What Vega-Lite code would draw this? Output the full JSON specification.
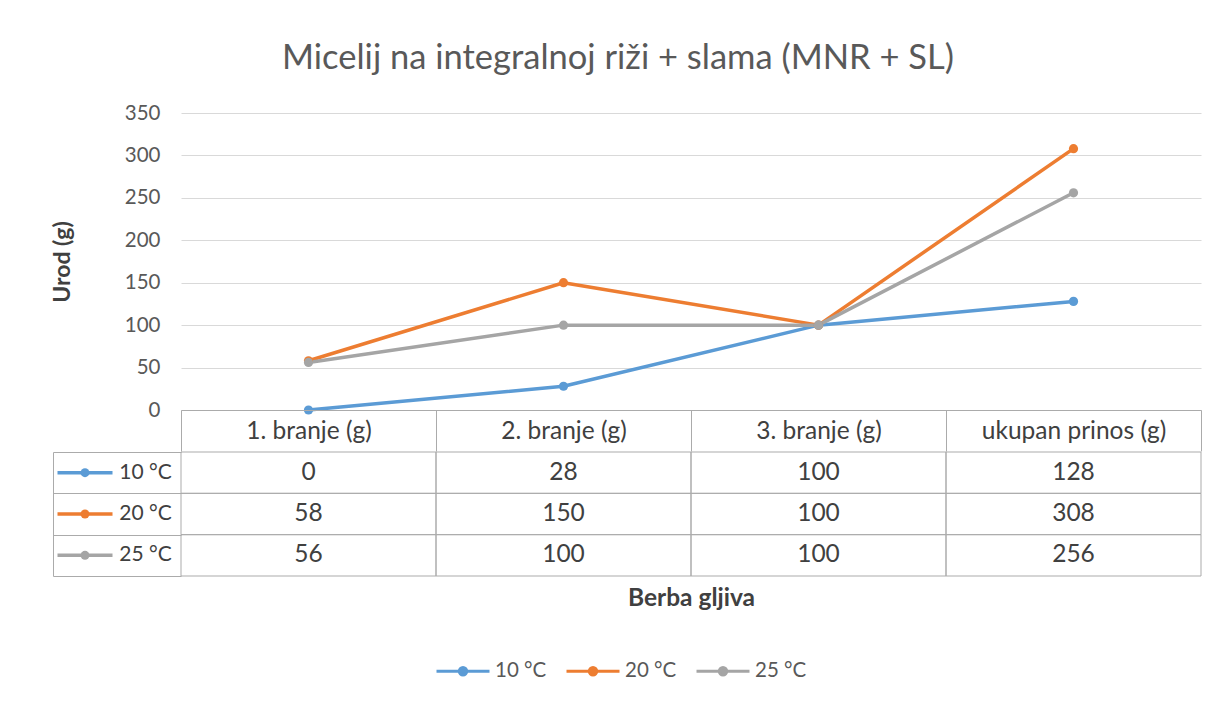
{
  "$schema": "https://vega.github.io/schema/vega-lite/v6.json",
  "width": 1020,
  "height": 297,
  "autosize": {"type": "none"},
  "padding": {"left": 181, "top": 113, "right": 17, "bottom": 291},
  "background": "white",
  "title": {
    "text": "Micelij na integralnoj riži + slama (MNR + SL)",
    "font": "Lato",
    "fontSize": 34.5,
    "fontWeight": "normal",
    "color": "#595959",
    "anchor": "middle",
    "dx": -73,
    "offset": 27
  },
  "config": {
    "font": "Lato",
    "view": {"stroke": null},
    "axis": {"labelFont": "Lato", "titleFont": "Lato"},
    "legend": {"labelFont": "Lato"}
  },
  "data": {
    "values": [
      {"serija": "10 °C", "berba": "1. branje (g)", "urod": 0},
      {"serija": "10 °C", "berba": "2. branje (g)", "urod": 28},
      {"serija": "10 °C", "berba": "3. branje (g)", "urod": 100},
      {"serija": "10 °C", "berba": "ukupan prinos (g)", "urod": 128},
      {"serija": "20 °C", "berba": "1. branje (g)", "urod": 58},
      {"serija": "20 °C", "berba": "2. branje (g)", "urod": 150},
      {"serija": "20 °C", "berba": "3. branje (g)", "urod": 100},
      {"serija": "20 °C", "berba": "ukupan prinos (g)", "urod": 308},
      {"serija": "25 °C", "berba": "1. branje (g)", "urod": 56},
      {"serija": "25 °C", "berba": "2. branje (g)", "urod": 100},
      {"serija": "25 °C", "berba": "3. branje (g)", "urod": 100},
      {"serija": "25 °C", "berba": "ukupan prinos (g)", "urod": 256}
    ]
  },
  "resolve": {"scale": {"x": "independent", "y": "independent"}},
  "layer": [
    {
      "layer": [
        {
          "mark": {"type": "line", "strokeWidth": 3.5, "strokeCap": "round", "strokeJoin": "round"},
          "encoding": {
            "x": {
              "field": "berba", "type": "nominal",
              "scale": {"type": "band", "domain": ["1. branje (g)", "2. branje (g)", "3. branje (g)", "ukupan prinos (g)"], "paddingInner": 0, "paddingOuter": 0},
              "axis": null
            },
            "y": {
              "field": "urod", "type": "quantitative",
              "scale": {"domain": [0, 350], "nice": false, "zero": true},
              "axis": {
                "orient": "left",
                "values": [0, 50, 100, 150, 200, 250, 300, 350],
                "grid": true, "gridColor": "#D9D9D9", "gridWidth": 1,
                "domain": false, "ticks": false,
                "labelPadding": 21, "labelFontSize": 20.5, "labelColor": "#595959",
                "title": "Urod (g)", "titleFontSize": 23, "titleFontWeight": "bold", "titleColor": "#404040",
                "titleAngle": -90, "titleX": -119, "titleY": 148.5, "titleAlign": "center", "titleBaseline": "middle"
              }
            },
            "color": {
              "field": "serija", "type": "nominal",
              "scale": {"domain": ["10 °C", "20 °C", "25 °C"], "range": ["#5B9BD5", "#ED7D31", "#A5A5A5"]},
              "legend": {
                "orient": "none", "legendX": 254, "legendY": 530, "direction": "horizontal",
                "title": null,
                "symbolType": "M-1,0H1M-0.14,0A0.14,0.14 0 1,0 0.14,0A0.14,0.14 0 1,0 -0.14,0Z",
                "symbolSize": 2809, "symbolStrokeWidth": 3,
                "labelFontSize": 20.5, "labelColor": "#595959", "labelOffset": 4,
                "columnPadding": 13
              }
            }
          }
        },
        {
          "mark": {"type": "point", "filled": true, "size": 85, "opacity": 1},
          "encoding": {
            "x": {"field": "berba", "type": "nominal"},
            "y": {"field": "urod", "type": "quantitative"},
            "color": {"field": "serija", "type": "nominal"}
          }
        }
      ]
    },
    {
      "resolve": {"scale": {"x": "independent"}},
      "layer": [
        {
          "layer": [
            {
              "mark": {"type": "rect", "fill": "white", "fillOpacity": 0, "stroke": "#ABABAB", "strokeWidth": 1},
              "encoding": {
                "x": {
                  "field": "berba", "type": "nominal",
                  "scale": {"type": "band", "domain": ["1. branje (g)", "2. branje (g)", "3. branje (g)", "ukupan prinos (g)"], "paddingInner": 0, "paddingOuter": 0},
                  "axis": {
                    "orient": "bottom",
                    "domain": true, "domainColor": "#ABABAB", "domainWidth": 1,
                    "ticks": true, "tickColor": "#ABABAB", "tickWidth": 1, "tickBand": "extent", "tickSize": 41,
                    "grid": false,
                    "labelPadding": -20, "labelBaseline": "middle", "labelFontSize": 24.5, "labelColor": "#404040",
                    "labelLimit": 0, "labelAngle": 0,
                    "title": "Berba gljiva", "titleFontSize": 24.5, "titleFontWeight": "bold", "titleColor": "#404040",
                    "titleY": 188, "titleBaseline": "middle"
                  }
                },
                "y": {
                  "field": "serija", "type": "nominal",
                  "scale": {"type": "band", "domain": ["10 °C", "20 °C", "25 °C"], "range": [339, 463], "paddingInner": 0, "paddingOuter": 0},
                  "axis": {
                    "orient": "left", "offset": 128,
                    "domain": true, "domainColor": "#ABABAB", "domainWidth": 1,
                    "ticks": true, "tickColor": "#ABABAB", "tickWidth": 1, "tickBand": "extent", "tickSize": -128,
                    "labels": false, "grid": false, "title": null
                  }
                }
              }
            },
            {
              "mark": {"type": "text", "fontSize": 24.5, "color": "#404040", "baseline": "middle", "align": "center"},
              "encoding": {
                "x": {"field": "berba", "type": "nominal"},
                "y": {"field": "serija", "type": "nominal"},
                "text": {"field": "urod", "type": "quantitative"}
              }
            }
          ]
        },
        {
          "transform": [{"filter": "datum.berba === '1. branje (g)'"}],
          "layer": [
            {
              "mark": {"type": "text", "fontSize": 21, "color": "#404040", "baseline": "middle", "align": "center", "dx": -3.5},
              "encoding": {
                "x": {
                  "datum": "oznaka", "type": "nominal",
                  "scale": {"type": "band", "domain": ["simbol", "oznaka"], "range": [-128, 0], "paddingInner": 0, "paddingOuter": 0},
                  "axis": null
                },
                "y": {"field": "serija", "type": "nominal"},
                "text": {"field": "serija", "type": "nominal"}
              }
            },
            {
              "mark": {"type": "tick", "orient": "horizontal", "size": 55, "thickness": 3.5, "opacity": 1},
              "encoding": {
                "x": {"datum": "simbol", "type": "nominal"},
                "y": {"field": "serija", "type": "nominal"},
                "color": {"field": "serija", "type": "nominal"}
              }
            },
            {
              "mark": {"type": "point", "filled": true, "size": 80, "opacity": 1},
              "encoding": {
                "x": {"datum": "simbol", "type": "nominal"},
                "y": {"field": "serija", "type": "nominal"},
                "color": {"field": "serija", "type": "nominal"}
              }
            }
          ]
        }
      ]
    }
  ]
}
